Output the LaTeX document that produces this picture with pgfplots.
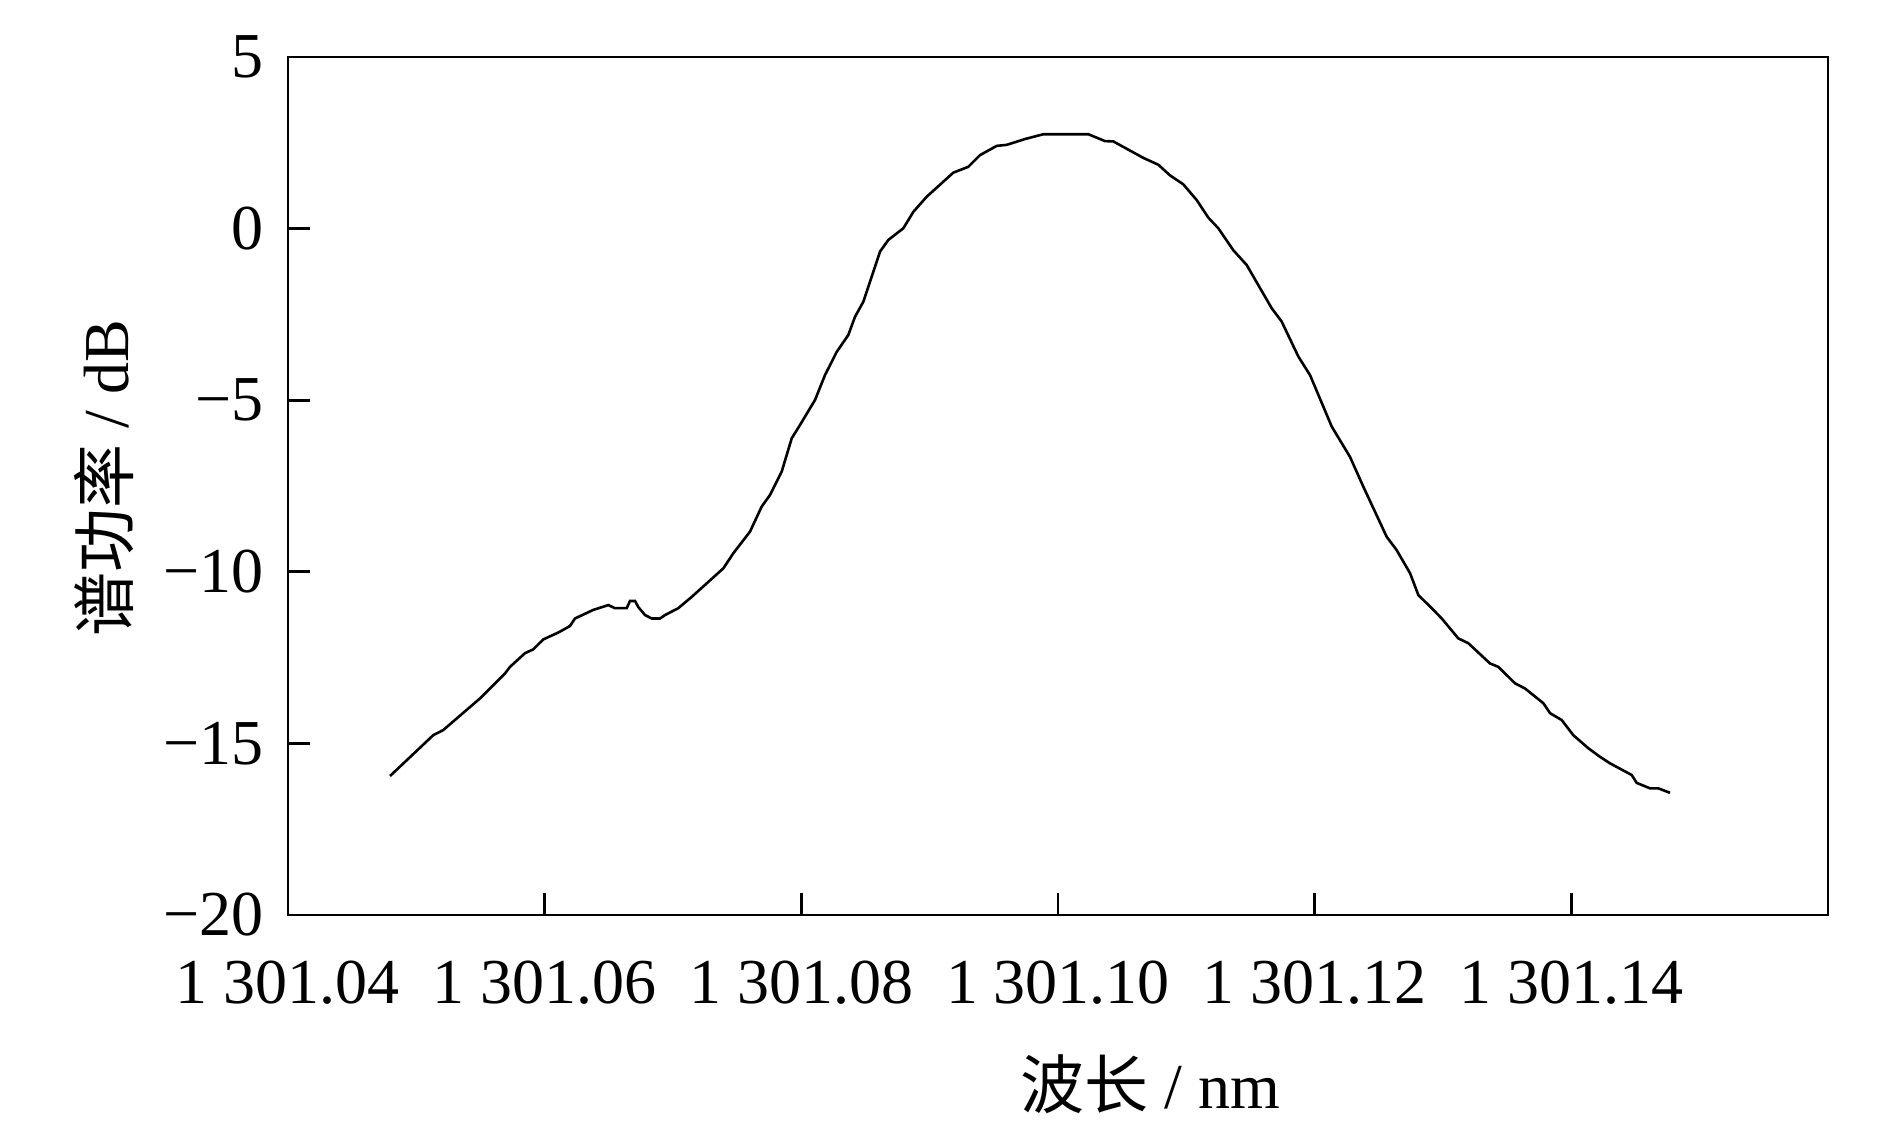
\documentclass[border=0pt]{standalone}
\usepackage{fontspec}
\setmainfont{Liberation Serif}
\newfontfamily\cjk{Noto Sans CJK SC}
\usepackage{pgfplots}
\pgfplotsset{compat=1.18}
% x values are (wavelength - 1301 nm) * 1000, i.e. in units of pm above 1301 nm
\pgfplotstableread{
x y
47.95 -15.95
51.32 -14.76
52.10 -14.61
54.96 -13.69
56.91 -12.96
57.30 -12.77
58.47 -12.37
59.11 -12.26
59.89 -11.97
61.06 -11.77
61.97 -11.58
62.36 -11.36
63.79 -11.11
64.96 -10.97
65.48 -11.06
66.39 -11.06
66.65 -10.85
67.04 -10.85
67.30 -11.03
67.82 -11.26
68.34 -11.36
68.99 -11.36
69.38 -11.26
70.41 -11.06
71.46 -10.73
73.92 -9.90
74.70 -9.46
76.00 -8.83
76.91 -8.10
77.56 -7.76
78.47 -7.08
79.25 -6.11
79.90 -5.72
81.07 -4.99
81.84 -4.27
82.76 -3.59
83.66 -3.10
84.18 -2.57
84.83 -2.13
86.13 -0.67
86.78 -0.33
87.95 0.01
88.73 0.49
89.77 0.93
91.84 1.63
93.01 1.80
93.92 2.14
95.22 2.41
96.00 2.44
97.43 2.61
98.86 2.75
102.36 2.75
103.66 2.55
104.31 2.54
106.65 2.06
107.82 1.86
108.73 1.55
109.76 1.29
110.81 0.83
111.71 0.32
112.49 0.01
113.66 -0.63
114.70 -1.06
116.65 -2.32
117.43 -2.71
118.73 -3.73
119.64 -4.27
121.33 -5.77
122.75 -6.65
123.79 -7.52
125.61 -8.98
126.39 -9.37
127.43 -10.04
128.08 -10.68
129.12 -11.06
129.90 -11.36
131.19 -11.94
131.97 -12.08
133.66 -12.67
134.31 -12.77
135.61 -13.25
136.39 -13.40
137.82 -13.83
138.34 -14.12
139.25 -14.32
140.15 -14.76
141.32 -15.14
142.23 -15.39
143.01 -15.58
144.70 -15.92
145.09 -16.15
146.13 -16.31
146.78 -16.31
147.69 -16.44
}\spectrum
\begin{document}
\begin{tikzpicture}[x=1pt,y=1pt]
\useasboundingbox (0,0) rectangle (472.5,283.5);
\begin{axis}[
  at={(72pt,54.75pt)}, anchor=south west,
  scale only axis, width=385pt, height=214.5pt,
  xmin=40, xmax=160, ymin=-20, ymax=5,
  axis line style={line width=0.7pt},
  every tick/.style={black, line width=0.7pt},
  tick align=inside, tick pos=left,
  major tick length=5.5pt,
  xtick={40,60,80,100,120,140},
  xticklabels={1 301.04,1 301.06,1 301.08,1 301.10,1 301.12,1 301.14},
  ytick={-20,-15,-10,-5,0,5},
  yticklabels={−20,−15,−10,−5,0,5},
  tick label style={font=\fontsize{16}{19}\selectfont},
  xticklabel style={yshift=-8pt},
  yticklabel style={xshift=-2.5pt},
  label style={font=\fontsize{16}{19}\selectfont},
  xlabel={{\cjk 波长} / nm},
  ylabel={{\cjk 谱功率} / dB},
  xlabel style={at={(axis description cs:0.56,-0.197)}, anchor=center},
  ylabel style={at={(axis description cs:-0.1195,0.509)}, anchor=center},
]
\addplot[black, line width=0.65pt] table[x=x,y=y] {\spectrum};
\end{axis}
\end{tikzpicture}
\end{document}
